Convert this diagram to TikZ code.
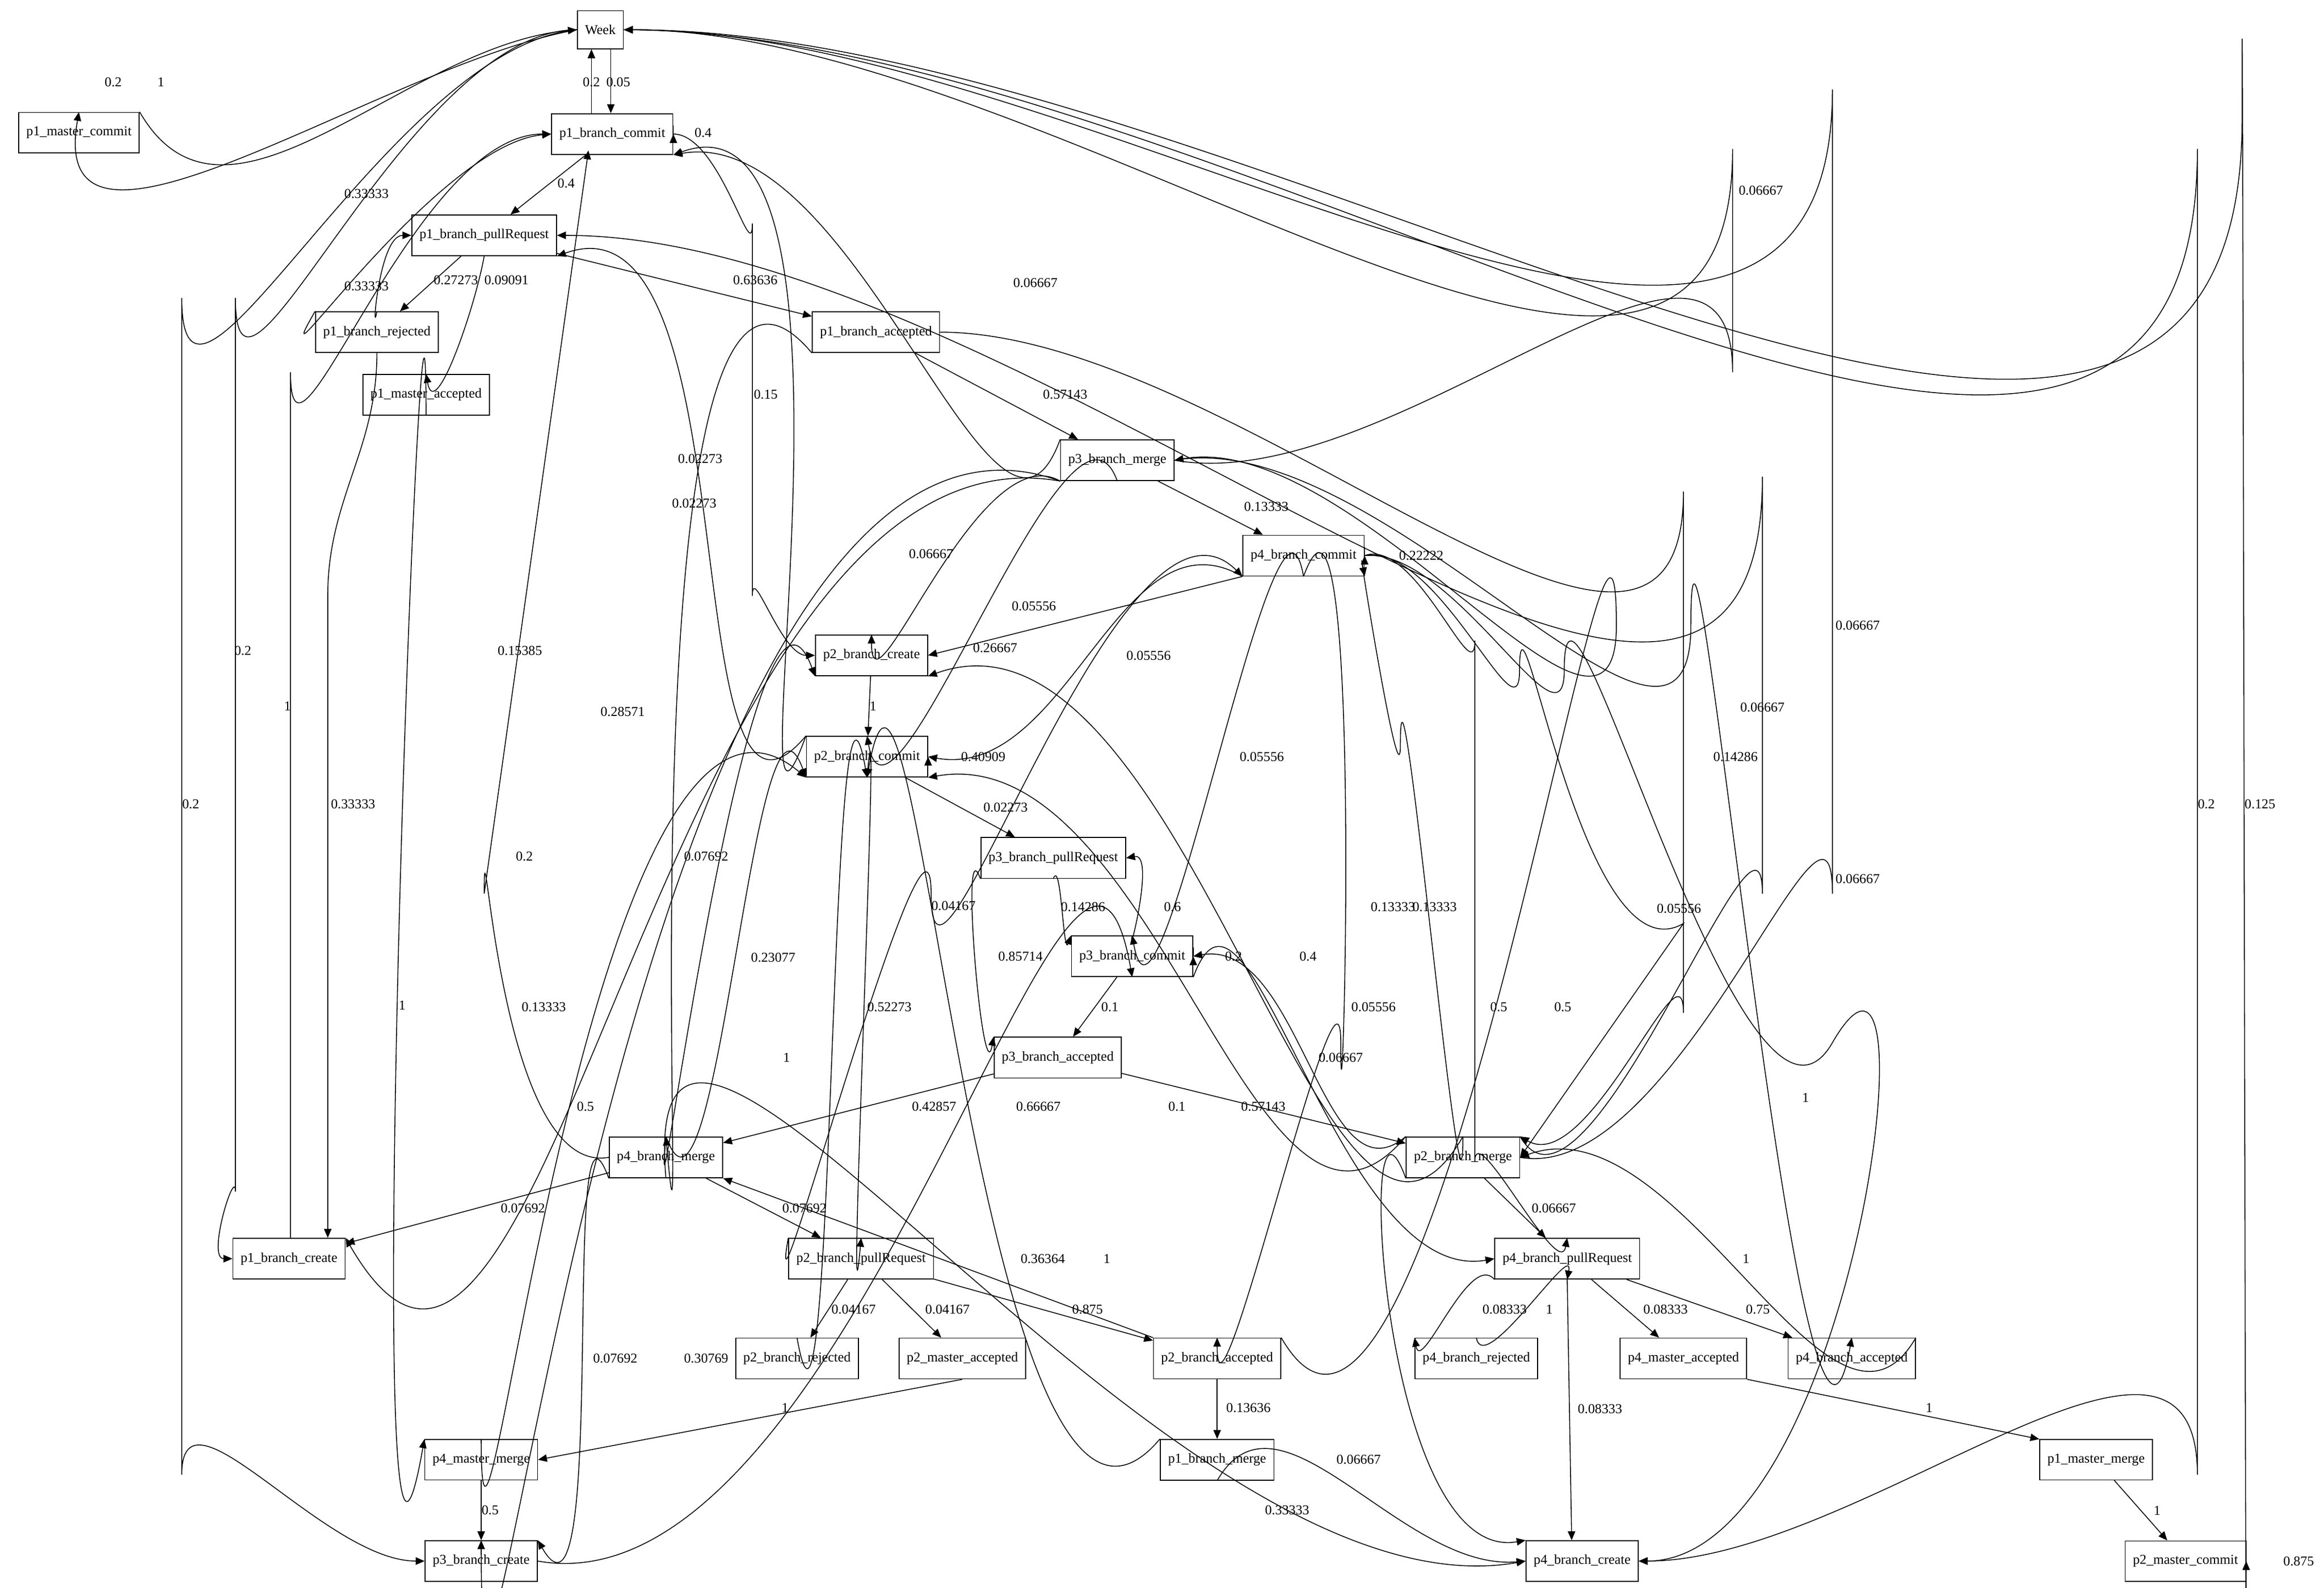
\documentclass[tikz,border=0pt]{standalone}
\usepackage{fontspec}
\setmainfont{Liberation Serif}
\usetikzlibrary{arrows.meta}
\begin{document}
\begin{tikzpicture}[x=0.35pt,y=-0.35pt,
  n/.style={draw,line width=0.22pt,font=\fontsize{3.2}{3.6}\selectfont,inner xsep=1.8pt,minimum height=7.35pt,fill=white},
  e/.style={-{Triangle[length=2.1pt,width=1.75pt]},line width=0.2pt},
  lb/.style={font=\fontsize{3.2}{3.6}\selectfont,inner sep=0.2pt},
  lp/.style={e,out=30,in=-30,looseness=7}]
\useasboundingbox (0,0) rectangle (1560,1066);
\newcommand\lab[3]{\node[lb] at (#1,#2) {#3};}
\node[n,minimum height=8.4pt] (week) at (403,20) {Week};
\node[n] (p1mc) at (53,89) {p1\_master\_commit};
\node[n] (p1bc) at (411,90) {p1\_branch\_commit};
\node[n] (p1pr) at (325,158) {p1\_branch\_pullRequest};
\node[n] (p1rj) at (253,223) {p1\_branch\_rejected};
\node[n] (p1ma) at (286,265) {p1\_master\_accepted};
\node[n] (p1ac) at (588,223) {p1\_branch\_accepted};
\node[n] (p3m) at (750,309) {p3\_branch\_merge};
\node[n] (p4bc) at (875,373) {p4\_branch\_commit};
\node[n] (p2cr) at (585,440) {p2\_branch\_create};
\node[n] (p2bc) at (582,508) {p2\_branch\_commit};
\node[n] (p3pr) at (707,576) {p3\_branch\_pullRequest};
\node[n] (p3bc) at (760,642) {p3\_branch\_commit};
\node[n] (p3ac) at (710,710) {p3\_branch\_accepted};
\node[n] (p4m) at (447,777) {p4\_branch\_merge};
\node[n] (p2m) at (982,777) {p2\_branch\_merge};
\node[n] (p1cr) at (194,845) {p1\_branch\_create};
\node[n] (p2pr) at (578,845) {p2\_branch\_pullRequest};
\node[n] (p4pr) at (1052,845) {p4\_branch\_pullRequest};
\node[n] (p2rj) at (535,912) {p2\_branch\_rejected};
\node[n] (p2ma) at (646,912) {p2\_master\_accepted};
\node[n] (p2ac) at (817,912) {p2\_branch\_accepted};
\node[n] (p4rj) at (991,912) {p4\_branch\_rejected};
\node[n] (p4ma) at (1130,912) {p4\_master\_accepted};
\node[n] (p4ac) at (1243,912) {p4\_branch\_accepted};
\node[n] (p4mm) at (323,980) {p4\_master\_merge};
\node[n] (p1bm) at (817,980) {p1\_branch\_merge};
\node[n] (p1mm) at (1407,980) {p1\_master\_merge};
\node[n] (p3cr) at (323,1048) {p3\_branch\_create};
\node[n] (p4cr) at (1062,1048) {p4\_branch\_create};
\node[n] (p2mc) at (1467,1048) {p2\_master\_commit};

% Week area
\draw[e] (week.west) to[out=-170,in=-100] (p1mc.north);
\lab{76}{55}{0.2}
\draw[e] (p1mc.north east) to[out=-60,in=-175] (week.west);
\lab{108}{55}{1}
\draw[e] (p1bc.north -| 397,0) -- (week.south -| 397,0);
\draw[e] (week.south -| 410,0) -- (p1bc.north -| 410,0);
\lab{397}{55}{0.2}\lab{415}{55}{0.05}
\draw[lp] (p1bc.east) to (p1bc.east);
\lab{472}{89}{0.4}
\draw[e] (p1bc) -- (p1pr);\lab{380}{123}{0.4}
\draw[e] (p1rj.north west) to[out=-120,in=-175] (p1bc.west);\lab{246}{130}{0.33333}
\draw[e] (p1rj.north) to[out=-100,in=180] (p1pr.west);\lab{246}{192}{0.33333}
\draw[e] (p1pr) -- (p1rj);\lab{306}{188}{0.27273}
\draw[e] (p1pr.south) to[out=-100,in=-80] (p1ma.north);\lab{340}{188}{0.09091}
\draw[e] (p1pr) -- (p1ac);\lab{507}{188}{0.63636}
\draw[e] (p1rj.south) to[out=-90,in=90] (220,400) -- (p1cr.north -| 220,0);\lab{237}{540}{0.33333}
\draw[e] (p1cr.north -| 195,0) -- (195,250) to[out=-90,in=180] (p1bc.west);\lab{193}{474}{1}
\draw[e] (week.west) to[out=180,in=-90] (158,200) -- (158,800) to[out=90,in=180] (p1cr.west);\lab{163}{437}{0.2}
\draw[e] (week.west) to[out=-175,in=-90] (122,200) -- (122,990) to[out=90,in=180] (p3cr.west);\lab{128}{540}{0.2}
\draw[e] (p1ma.south) to[out=90,in=-100] (p4mm.north west);\lab{270}{675}{1}
\draw[e] (p1bc.east) to[out=0,in=-90] (505,150) -- (505,400) to[out=90,in=180] (p2cr.west);\lab{514}{265}{0.15}
\draw[e] (p2bc.north west) to[out=-110,in=20] (p1bc.south east);\lab{470}{308}{0.02273}
\draw[e] (p2bc.north west) to[out=-130,in=20] (p1pr.south east);\lab{466}{338}{0.02273}
\draw[e] (p1ac) -- (p3m);\lab{715}{265}{0.57143}
\draw[e] (p1ac.south west) to[out=130,in=-85] (p4m.north);\lab{418}{478}{0.28571}
\draw[e] (p1ac.east) to[out=0,in=-90] (1130,330) -- (1130,680) to[out=90,in=-30] (p2m.north east);\lab{1165}{508}{0.14286}
% p3 merge
\draw[e] (p3m.east) to[out=-10,in=90] (1163,250) -- (1163,100) to[out=-90,in=0] (week.east);\lab{1182}{128}{0.06667}
\draw[e] (p3m.north west) to[out=-110,in=10] (p1bc.south east);\lab{695}{190}{0.06667}
\draw[e] (p3m) -- (p4bc);\lab{850}{340}{0.13333}
\draw[e] (p3m.south west) to[out=150,in=-90] (p2cr.north);\lab{625}{372}{0.06667}
\draw[e] (p3m.south) to[out=110,in=-80] (p2bc.north);\lab{668}{435}{0.26667}
\draw[e] (p3m.south west) to[out=170,in=-60] (p1cr.north east);\lab{352}{575}{0.2}
\draw[e] (p3m.south west) to[out=160,in=-90] (p3cr.north);\lab{365}{676}{0.13333}
\draw[e] (p3m.east) to[out=10,in=-90] (1135,420) to[out=90,in=-100] (p4ac.north);\lab{1247}{590}{0.06667}
\draw[e] (p2m.north east) to[out=-60,in=90] (1183,600) -- (1183,320) to[out=-90,in=0] (p1pr.east);\lab{1183}{475}{0.06667}
\draw[e] (p2m.east) to[out=-10,in=90] (1230,600) -- (1230,60) to[out=-90,in=0] (week.east);\lab{1247}{420}{0.06667}
% p4 commit
\draw[lp] (p4bc.east) to (p4bc.east);\lab{954}{373}{0.22222}
\draw[e] (p4bc.south west) -- (p2cr.east);\lab{694}{407}{0.05556}
\draw[e] (p4bc.south west) to[out=150,in=-10] (p2bc.east);\lab{771}{440}{0.05556}
\draw[e] (p4bc.south) to[out=100,in=-80] (p3bc.north);\lab{847}{508}{0.05556}
\draw[e] (p4bc.south) to[out=70,in=-90] (900,700) to[out=90,in=-90] (p2ac.north);\lab{922}{676}{0.05556}
\draw[e] (p4bc.east) to[out=20,in=-90] (990,430) -- (990,780) to[out=90,in=-100] (p4pr.north);\lab{1006}{676}{0.5}
\draw[e] (p4bc.east) to[out=10,in=-90] (1020,450) to[out=90,in=-150] (1130,620) -- (p2m.east);\lab{1127}{610}{0.05556}
\draw[e] (p2m.north) to[out=-90,in=90] (940,500) to[out=-90,in=100] (p4bc.south east);\lab{963}{609}{0.13333}
\draw[e] (p2ac.north east) to[out=-60,in=90] (1085,420) to[out=-90,in=10] (p3m.east);\lab{1049}{676}{0.5}
\draw[e] (p4bc.east) to[out=5,in=-90] (1050,450) to[out=90,in=-120] (1230,700) to[out=60,in=0] (p4cr.east);\lab{1212}{737}{1}
% p2 commit
\draw[e] (p2cr) -- (p2bc);\lab{586}{474}{1}
\draw[lp] (p2bc.east) to (p2bc.east);\lab{660}{508}{0.40909}
\draw[e] (p2bc) -- (p3pr);\lab{675}{542}{0.02273}
\draw[e] (p2bc.south) to[out=85,in=-95] (p2pr.north);\lab{597}{676}{0.52273}
\draw[e] (p2m.north) to[out=-120,in=20] (p2cr.south east);\lab{935}{609}{0.13333}
\draw[e] (p2m.north west) to[out=-130,in=10] (p2bc.south east);\lab{878}{642}{0.4}
% p3
\draw[e] (p3pr.south) to[out=70,in=-110] (p3bc.north west);\lab{727}{609}{0.14286}
\draw[e] (p3pr.south west) to[out=110,in=-100] (p3ac.north west);\lab{685}{642}{0.85714}
\draw[e] (p3bc.north) to[out=-100,in=10] (p3pr.east);\lab{787}{609}{0.6}
\draw[lp] (p3bc.east) to (p3bc.east);\lab{828}{642}{0.2}
\draw[e] (p3bc) -- (p3ac);\lab{745}{676}{0.1}
\draw[e] (p3bc.south east) to[out=70,in=-170] (p4pr.west);\lab{790}{743}{0.1}
\draw[e] (p2m.north west) to[out=-140,in=10] (p3bc.east);\lab{900}{710}{0.06667}
\draw[e] (p3ac) -- (p4m);\lab{627}{743}{0.42857}
\draw[e] (p3ac) -- (p2m);\lab{848}{743}{0.57143}
% p4 merge
\draw[e] (p4m.west) to[out=-170,in=90] (325,600) -- (395,101);\lab{349}{437}{0.15385}
\draw[e] (p4m.north) to[out=-95,in=110] (p2cr.south west);\lab{474}{575}{0.07692}
\draw[e] (p4m.north) to[out=-70,in=110] (p2bc.south west);\lab{519}{643}{0.23077}
\draw[e] (p4m) -- (p1cr);\lab{351}{811}{0.07692}
\draw[e] (p4m) -- (p2pr);\lab{540}{811}{0.07692}
\draw[e] (p4m.south west) to[out=110,in=-60] (p3cr.north east);\lab{413}{912}{0.07692}
\draw[e] (p4m.south) to[out=95,in=-170] (p4cr.west);\lab{474}{912}{0.30769}
\draw[e] (p4mm.north) to[out=-90,in=140] (p2bc.south west);\lab{393}{743}{0.5}
\draw[e] (p4mm) -- (p3cr);\lab{329}{1014}{0.5}
\draw[e] (p2rj.north) to[out=-80,in=100] (p2bc.south);\lab{528}{710}{1}
\draw[e] (p2pr) -- (p2rj);\lab{573}{879}{0.04167}
\draw[e] (p2pr) -- (p2ma);\lab{636}{879}{0.04167}
\draw[e] (p2pr) -- (p2ac);\lab{730}{879}{0.875}
\draw[e] (p2pr.north west) to[out=-100,in=90] (625,600) to[out=-90,in=135] (p4bc.south west);\lab{640}{608}{0.04167}
\draw[e] (p2ma.south) -- (p4mm.east);\lab{527}{945}{1}
\draw[e] (p2ac.north west) -- (p4m.south east);\lab{700}{845}{0.36364}
\draw[e] (p2ac) -- (p1bm);\lab{838}{945}{0.13636}
\draw[e] (p1bm.north west) to[out=-130,in=80] (p2bc.south);\lab{697}{743}{0.66667}
\draw[e] (p1bm.south) to[out=60,in=-175] (p4cr.west);\lab{864}{1014}{0.33333}
\draw[e] (p3cr.east) to[out=-10,in=100] (p3bc.south);\lab{743}{845}{1}
% p2 merge / p4
\draw[e] (p2m) -- (p4pr);\lab{1043}{811}{0.06667}
\draw[e] (p2m.south west) to[out=110,in=-170] (p4cr.north west);\lab{912}{980}{0.06667}
\draw[e] (p4pr.south west) to[out=130,in=-80] (p4rj.north west);\lab{1010}{879}{0.08333}
\draw[e] (p4rj.north) to[out=-80,in=80] (p4pr.south);\lab{1040}{879}{1}
\draw[e] (p4pr) -- (p4ma);\lab{1118}{879}{0.08333}
\draw[e] (p4pr) -- (p4ac);\lab{1180}{879}{0.75}
\draw[e] (p4pr.south) -- (p4cr.north -| 1055,0);\lab{1074}{946}{0.08333}
\draw[e] (p4ac.north east) to[out=-120,in=20] (p2m.east);\lab{1172}{845}{1}
\draw[e] (p4ma.south east) -- (p1mm.north west);\lab{1295}{945}{1}
\draw[e] (p1mm) -- (p2mc);\lab{1448}{1014}{1}
\draw[lp] (p2mc.east) to (p2mc.east);\lab{1543}{1048}{0.875}
\draw[e] (p2mc.north east) to[out=-90,in=90] (1505,80) to[out=-90,in=0] (week.east);\lab{1517}{540}{0.125}
\draw[e] (week.east) to[out=0,in=-90] (1475,100) -- (1475,990) to[out=90,in=0] (p4cr.east);\lab{1481}{540}{0.2}
\end{tikzpicture}
\end{document}
